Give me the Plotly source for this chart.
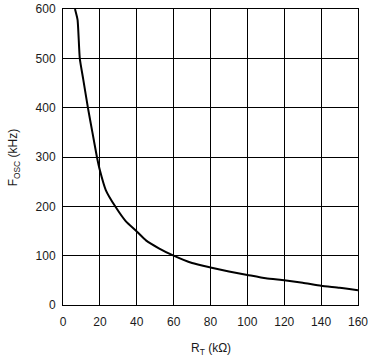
import plotly.graph_objects as go

rt_kohm = [6.5, 7.9, 9.1, 11, 13.5, 16, 18.4, 20, 23.2, 28.3, 34, 40, 45, 52, 60,
           70, 80, 90, 100, 110, 120, 130, 140, 150, 160]
fosc_khz = [600, 578, 500, 457, 400, 349, 300, 273, 233, 200, 170, 149, 131, 115, 100,
            85, 76, 68, 61, 54, 50, 45, 39, 35, 30]

x_ticks = [0, 20, 40, 60, 80, 100, 120, 140, 160]
y_ticks = [0, 100, 200, 300, 400, 500, 600]

fig = go.Figure()
fig.add_trace(go.Scatter(x=rt_kohm, y=fosc_khz, mode="lines", line_shape="spline",
                         line=dict(color="black", width=2, smoothing=0.5), showlegend=False))

font = dict(family="Liberation Sans, Arial, sans-serif", size=12, color="#1a1a1a")
fig.update_layout(
    width=368, height=358,
    margin=dict(l=63, r=10, t=9, b=53),
    paper_bgcolor="white", plot_bgcolor="white",
    font=font,
    xaxis=dict(range=[0, 160], tickvals=x_ticks, showgrid=True, gridcolor="black",
               gridwidth=1, showline=True, linecolor="black", linewidth=1, mirror=True,
               zeroline=False, ticks="", automargin=False, ticklabelstandoff=6,
               ticklabeloverflow="allow"),
    yaxis=dict(range=[0, 600], tickvals=y_ticks, showgrid=True, gridcolor="black",
               gridwidth=1, showline=True, linecolor="black", linewidth=1, mirror=True,
               zeroline=False, ticks="", automargin=False, ticklabelstandoff=4,
               ticklabeloverflow="allow"),
    annotations=[
        dict(text="R<sub>T</sub> (kΩ)", xref="paper", yref="paper", x=0.5, y=-0.15,
             xanchor="center", yanchor="middle", showarrow=False, font=font),
        dict(text="F<sub>OSC</sub> (kHz)", xref="paper", yref="paper", x=-0.165, y=0.5,
             xanchor="center", yanchor="middle", showarrow=False, textangle=-90, font=font),
    ],
)
fig.write_html("out.html", config={"displayModeBar": False},
               post_script="document.body.style.margin='0';document.body.style.overflow='hidden';")
